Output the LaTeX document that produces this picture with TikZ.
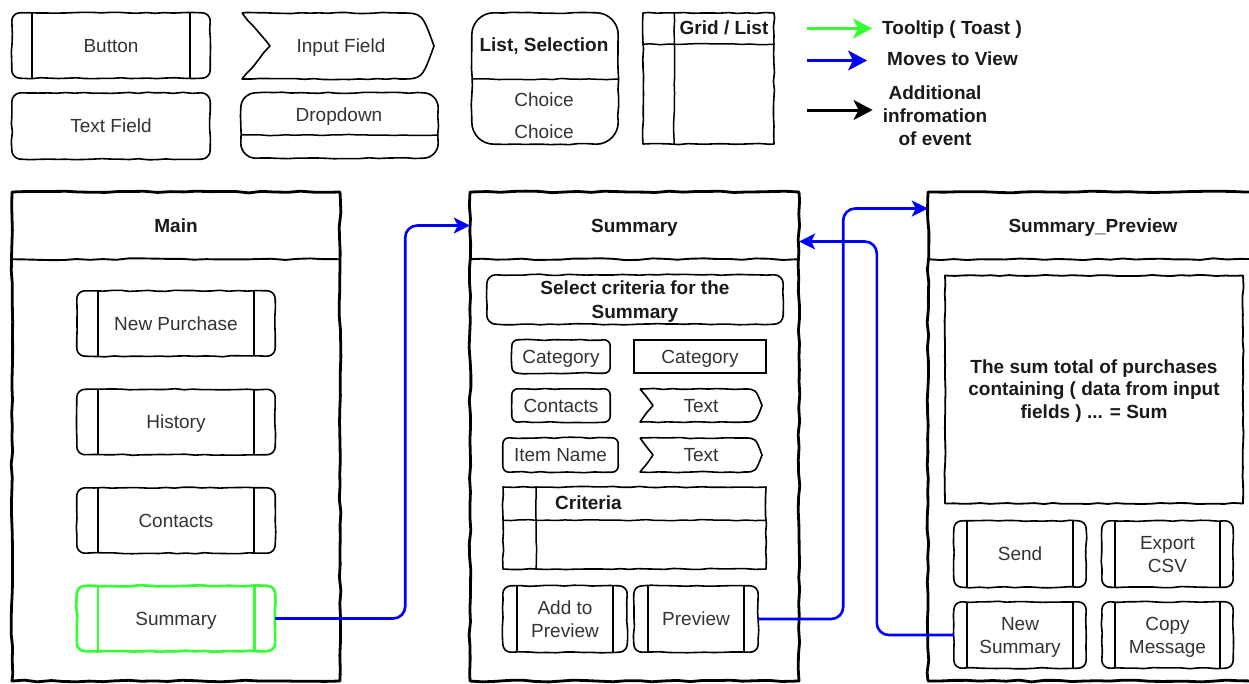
\documentclass[tikz,border=0pt]{standalone}
\usepackage{fontspec}
\setmainfont{Liberation Sans}
\usetikzlibrary{arrows.meta,decorations.pathmorphing,calc}

\definecolor{flowblue}{HTML}{0000FF}
\definecolor{toastgreen}{HTML}{33FF33}
\definecolor{inkgrey}{HTML}{333333}
\definecolor{ink}{HTML}{1A1A1A}

% invisible rule that gives every label line the same height and depth,
% so labels sit centred on their capitals whatever letters they hold
\newcommand\capstrut{\rule[-4.4pt]{0pt}{22.4pt}}
% two or three centred lines, first and last line evened out the same way
\newcommand\lines[1]{\capstrut#1\capstrut}

\tikzset{
  x=1pt, y=-1pt,
  label base/.style={align=center, inner sep=0pt,
    execute at begin node=\capstrut, execute at end node=\capstrut},
  txt/.style={label base, font=\fontsize{19}{22}\selectfont, text=inkgrey},
  btxt/.style={label base, font=\fontsize{19}{22}\selectfont\bfseries, text=ink},
  wobble/.style={decorate, decoration={random steps, segment length=9pt, amplitude=0.6pt}},
  bigwobble/.style={decorate, decoration={random steps, segment length=13pt, amplitude=0.9pt}},
  panel/.style={draw=black, line width=2.8pt, bigwobble, line join=round},
  panelline/.style={draw=black, line width=1.9pt, bigwobble, line join=round},
  skline/.style={draw=black, line width=1.6pt, line join=round,
    decoration={random steps, segment length=9pt, amplitude=0.6pt}},
  uiline/.style={draw=black, line width=1.5pt},
  sharpbox/.style={draw=black, line width=1.6pt, wobble, line join=round},
  plainbox/.style={draw=black, line width=1.5pt},
  flow/.style={draw=flowblue, line width=2.6pt, rounded corners=12pt,
    -{Stealth[length=16pt,width=16pt,inset=4pt]}},
  legarrow/.style={line width=3pt, -{Stealth[length=19pt,width=20pt,inset=5pt]}},
}

% hand-drawn rounded outline round a node: name, corner radius, style
\newcommand\skrect[3]{%
  \draw[skline, #3] ([xshift=#2pt]#1.north west)
    decorate{-- ([xshift=-#2pt]#1.north east)}
    arc[start angle=90, end angle=0, radius=#2pt]
    decorate{-- ([yshift=#2pt]#1.south east)}
    arc[start angle=0, end angle=-90, radius=#2pt]
    decorate{-- ([xshift=#2pt]#1.south west)}
    arc[start angle=-90, end angle=-180, radius=#2pt]
    decorate{-- ([yshift=-#2pt]#1.north west)}
    arc[start angle=180, end angle=90, radius=#2pt] -- cycle;
}

% push button: [outline style], name, x, y, width, height, side-bar offset, label
\newcommand\uibtn[8][]{%
  \node[txt, minimum width=#5pt, minimum height=#6pt] (#2) at (#3,#4) {#8};
  \skrect{#2}{8}{#1}
  \draw[uiline, #1] ([xshift=#7pt]#2.north west) -- ([xshift=#7pt]#2.south west);
  \draw[uiline, #1] ([xshift=-#7pt]#2.north east) -- ([xshift=-#7pt]#2.south east);
}

% input field outline: x1, y1, x2, y2, notch depth, tip length
\newcommand\fieldshape[6]{%
  \pgfmathsetmacro\fym{(#2+#4)/2}%
  \pgfmathsetmacro\fxn{#1+#5}%
  \pgfmathsetmacro\fxt{#3-#6}%
  \pgfmathsetmacro\fxc{#3-0.35*#6}%
  \draw[skline]
    (#1,#2) decorate{-- (\fxn,\fym) -- (#1,#4) -- (\fxt,#4)}
    .. controls (\fxc,#4) .. (#3,\fym)
    .. controls (\fxc,#2) .. (\fxt,#2) decorate{-- (#1,#2)};
}

\begin{document}
\begin{tikzpicture}
\pgfmathsetseed{11}
\useasboundingbox (0,0) rectangle (1249,683);

% ---------- widget legend ----------
\uibtn{btnA}{111}{45.5}{198}{65}{20}{Button}
\node[txt, minimum width=198pt, minimum height=66pt] (tfield) at (111,126) {Text Field};
\skrect{tfield}{9}{}

\fieldshape{242}{13}{434}{79}{28}{34}
\node[txt] (inpf) at (341,46) {Input Field};

\node[minimum width=197pt, minimum height=65pt, inner sep=0pt] (ddbox) at (339.5,125.5) {};
\skrect{ddbox}{15}{}
\draw[uiline, wobble] ([yshift=-9.5pt]ddbox.west) -- ([yshift=-9.5pt]ddbox.east);
\node[txt] (ddtxt) at (339,115) {Dropdown};

\node[minimum width=146pt, minimum height=131pt, inner sep=0pt] (lsbox) at (545,78.5) {};
\skrect{lsbox}{22}{}
\draw[uiline, wobble] ([yshift=-0.5pt]lsbox.west) -- ([yshift=-0.5pt]lsbox.east);
\node[btxt] (lshead) at (544,45) {List, Selection};
\node[txt] (lsc1) at (544,100) {Choice};
\node[txt] (lsc2) at (544,132) {Choice};

\node[sharpbox, minimum width=131pt, minimum height=131pt] (grid) at (708.5,78.5) {};
\draw[uiline, wobble] ([xshift=32pt]grid.north west) -- ([xshift=32pt]grid.south west);
\draw[uiline, wobble] ([yshift=-32pt]grid.north west) -- ([yshift=-32pt]grid.north east);
\node[btxt] (gridhead) at (724,28) {Grid / List};

% ---------- arrow legend ----------
\coordinate (lgA0) at (807,28.5);
\coordinate (lgB0) at (807,60.5);
\coordinate (lgC0) at (807,110);
\node[btxt, anchor=west, inner xsep=10pt] (lgA) at (872,28) {Tooltip ( Toast )};
\node[btxt, anchor=west, inner xsep=15pt] (lgB) at (872,59) {Moves to View};
\node[btxt, font=\fontsize{19}{23}\selectfont\bfseries, inner xsep=10pt] (lgC) at (935,116) {\lines{Additional\\infromation\\of event}};
\draw[legarrow, toastgreen] (lgA0) -- (lgA.west |- lgA0);
\draw[legarrow, flowblue] (lgB0) -- ([xshift=-5pt]lgB.west |- lgB0);
\draw[legarrow, black] (lgC0) -- (lgC.west |- lgC0);

% ---------- Main view ----------
\node[panel, minimum width=328pt, minimum height=489pt] (mainp) at (176,436.5) {};
\node[btxt, minimum width=328pt, minimum height=67pt] (mainh) at (176,225.5) {Main};
\draw[panelline] (mainh.south west) -- (mainh.south east);
\uibtn{newpur}{176}{323.5}{198}{65}{21}{New Purchase}
\uibtn{hist}{176}{422}{198}{65}{21}{History}
\uibtn{contbtn}{176}{520.5}{198}{65}{21}{Contacts}
\uibtn[draw=toastgreen, line width=2.6pt]{sumbtn}{176}{618.5}{198}{65}{21}{Summary}

% ---------- Summary view ----------
\node[panel, minimum width=329pt, minimum height=489pt] (sump) at (634.5,436.5) {};
\node[btxt, minimum width=329pt, minimum height=67pt] (sumh) at (634.5,225.5) {Summary};
\draw[panelline] (sumh.south west) -- (sumh.south east);
\node[btxt, font=\fontsize{19}{23.5}\selectfont\bfseries, minimum width=296pt, minimum height=49pt] (selbox) at (635,299.5) {\lines{Select criteria for the\\Summary}};
\skrect{selbox}{9}{}
\node[txt, minimum width=98pt, minimum height=33pt] (catl) at (561,356.5) {Category};
\skrect{catl}{6}{}
\node[plainbox, txt, minimum width=132pt, minimum height=33pt] (catr) at (700,356.5) {Category};
\node[txt, minimum width=98pt, minimum height=33pt] (contl) at (561,405.5) {Contacts};
\skrect{contl}{6}{}
\fieldshape{640}{389}{762}{422}{13}{18}
\node[txt] (textA) at (701,406) {Text};
\node[txt, minimum width=115pt, minimum height=34pt] (itemn) at (560.5,455) {Item Name};
\skrect{itemn}{6}{}
\fieldshape{640}{438}{762}{472}{13}{18}
\node[txt] (textB) at (701,455) {Text};
\node[sharpbox, minimum width=263pt, minimum height=82pt] (crit) at (634.5,528) {};
\draw[uiline, wobble] ([xshift=34pt]crit.north west) -- ([xshift=34pt]crit.south west);
\draw[uiline, wobble] ([yshift=-34pt]crit.north west) -- ([yshift=-34pt]crit.north east);
\node[btxt, anchor=west] (crithead) at (555,503) {Criteria};
\uibtn{addprev}{565}{619}{124}{66}{14}{\lines{Add to\\Preview}}
\uibtn{prevbtn}{696}{619}{124}{66}{14}{Preview}

% ---------- Summary_Preview view ----------
\node[panel, minimum width=330pt, minimum height=489pt] (spp) at (1093,436.5) {};
\node[btxt, minimum width=330pt, minimum height=67pt] (sph) at (1093,225.5) {Summary\_Preview};
\draw[panelline] (sph.south west) -- (sph.south east);
\node[sharpbox, btxt, line width=1.8pt, minimum width=298pt, minimum height=228pt] (sumtext) at (1094,389.5) {\lines{The sum total of purchases\\containing ( data from input\\fields ) ... = Sum}};
\uibtn{sendbtn}{1020}{554}{132}{66}{13}{Send}
\uibtn{expbtn}{1167.5}{554}{131}{66}{13}{\lines{Export\\CSV}}
\uibtn{newsum}{1020}{635}{132}{66}{13}{\lines{New\\Summary}}
\uibtn{copybtn}{1167.5}{635}{131}{66}{13}{\lines{Copy\\Message}}

% ---------- navigation ----------
\draw[flow] (sumbtn.east) -- ++(130,0) |- (sumh.west);
\draw[flow] (prevbtn.east) -- ++(85,0) |- ([yshift=17pt]sph.west);
\draw[flow] (newsum.west) -- ++(-77,0) |- ([yshift=-16pt]sumh.east);
\end{tikzpicture}
\end{document}
